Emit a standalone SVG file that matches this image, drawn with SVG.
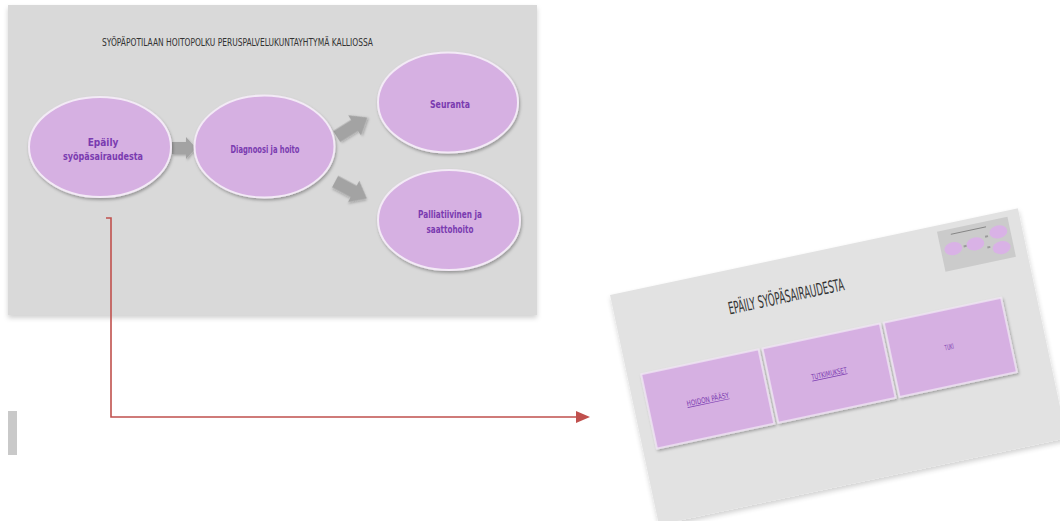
<svg xmlns="http://www.w3.org/2000/svg" width="1060" height="521" viewBox="0 0 1060 521">
<style>
.slide{fill:#d9d9d9}
.slide2{fill:#e2e2e2}
.ell{fill:#d6b0e2;stroke:#f3eaf6;stroke-width:2;filter:url(#sh)}
.etxt{font-family:'DejaVu Sans Condensed','DejaVu Sans',sans-serif;font-weight:bold;font-size:10px;fill:#7a3bb0;text-anchor:middle}
.title{font-family:'DejaVu Sans Condensed','DejaVu Sans',sans-serif;fill:#333333}
.barrow{fill:#a3a3a3;filter:url(#sh2)}
.box{fill:#d6b0e2;stroke:#f1e6f5;stroke-width:1.5;filter:url(#sh)}
.btxt{font-family:'DejaVu Sans Condensed','DejaVu Sans',sans-serif;font-size:7.5px;fill:#7a3bb0;text-anchor:middle}
.conn{fill:none;stroke:#c0504d;stroke-width:1.6}
.mini{fill:#d9b2e6}
</style>
<defs>
<filter id="sh" x="-20%" y="-20%" width="140%" height="150%">
<feDropShadow dx="1" dy="2" stdDeviation="1.5" flood-color="#000" flood-opacity="0.3"/>
</filter>
<filter id="sh2" x="-20%" y="-20%" width="140%" height="150%">
<feDropShadow dx="1" dy="1.5" stdDeviation="1" flood-color="#000" flood-opacity="0.25"/>
</filter>
<filter id="shs" x="-5%" y="-5%" width="110%" height="115%">
<feDropShadow dx="0" dy="3" stdDeviation="2.5" flood-color="#000" flood-opacity="0.18"/>
</filter>
<marker id="ah" markerWidth="14" markerHeight="12" refX="1" refY="6" orient="auto" markerUnits="userSpaceOnUse">
<path d="M0,0 L14,6 L0,12 Z" fill="#c0504d"/>
</marker>
<path id="ba" d="M-12,-6 L2,-6 L2,-11 L12,0 L2,11 L2,6 L-12,6 Z"/>
<path id="bb" d="M-18,-6.5 L3,-6.5 L3,-12 L18,0 L3,12 L3,6.5 L-18,6.5 Z"/>
</defs>

<g id="slide-main">
<rect class="slide" x="8" y="5" width="529" height="310" filter="url(#shs)"/>
<text class="title" x="102" y="46" font-size="10.5" textLength="271" lengthAdjust="spacingAndGlyphs">SYÖPÄPOTILAAN HOITOPOLKU PERUSPALVELUKUNTAYHTYMÄ KALLIOSSA</text>
</g>

<g id="block-arrows">
<use href="#ba" class="barrow" transform="translate(184,148)"/>
<use href="#bb" class="barrow" transform="translate(352,127) rotate(-32)"/>
<use href="#bb" class="barrow" transform="translate(351,190) rotate(28)"/>
</g>

<g id="node-epaily">
<ellipse class="ell" cx="100" cy="147" rx="71" ry="50"/>
<text class="etxt" x="103" y="146">Epäily</text>
<text class="etxt" x="103" y="160" textLength="80" lengthAdjust="spacingAndGlyphs">syöpäsairaudesta</text>
</g>
<g id="node-diagnoosi">
<ellipse class="ell" cx="264.5" cy="146.5" rx="70" ry="51"/>
<text class="etxt" x="265" y="153" textLength="69" lengthAdjust="spacingAndGlyphs">Diagnoosi ja hoito</text>
</g>
<g id="node-seuranta">
<ellipse class="ell" cx="448" cy="102.5" rx="70" ry="50"/>
<text class="etxt" x="450" y="108" textLength="40" lengthAdjust="spacingAndGlyphs">Seuranta</text>
</g>
<g id="node-palliatiivinen">
<ellipse class="ell" cx="449" cy="220" rx="71" ry="50"/>
<text class="etxt" x="450" y="218" textLength="64" lengthAdjust="spacingAndGlyphs">Palliatiivinen  ja</text>
<text class="etxt" x="450" y="233" textLength="47" lengthAdjust="spacingAndGlyphs">saattohoito</text>
</g>

<g id="side-bar">
<rect x="8" y="411" width="9" height="44" fill="#c9c9c9"/>
</g>

<g id="connectors">
<path class="conn" d="M106,218 L111,218 L111,417 L577,417" marker-end="url(#ah)"/>
</g>

<g id="slide-detail" transform="translate(610,295) rotate(-12)">
<rect class="slide2" x="0" y="0" width="417" height="235" filter="url(#shs)"/>
<g id="minimap" transform="translate(333,6)">
<rect x="0" y="0" width="72" height="41" fill="#cbcbcb"/>
<line x1="13" y1="5.5" x2="49" y2="5.5" stroke="#7a7a7a" stroke-width="0.8"/>
<ellipse class="mini" cx="12.5" cy="20" rx="9" ry="6.5"/>
<ellipse class="mini" cx="35" cy="20" rx="9" ry="6.5"/>
<ellipse class="mini" cx="60" cy="13" rx="9" ry="6.5"/>
<ellipse class="mini" cx="60" cy="29" rx="9" ry="6.5"/>
<rect x="23" y="19" width="3" height="2" fill="#9a9a9a"/>
<rect x="46" y="14" width="3" height="2" fill="#9a9a9a"/>
<rect x="46" y="25" width="3" height="2" fill="#9a9a9a"/>
</g>
<text class="title" x="113" y="44" font-size="17" textLength="118" lengthAdjust="spacingAndGlyphs">EPÄILY SYÖPÄSAIRAUDESTA</text>
<g id="box-hoidon">
<rect class="box" x="14" y="84" width="120" height="76"/>
<text class="btxt" x="74" y="125" text-decoration="underline" textLength="43" lengthAdjust="spacingAndGlyphs">HOIDON PÄÄSY</text>
</g>
<g id="box-tutkimukset">
<rect class="box" x="138" y="84" width="120" height="76"/>
<text class="btxt" x="198" y="125" text-decoration="underline" textLength="36" lengthAdjust="spacingAndGlyphs">TUTKIMUKSET</text>
</g>
<g id="box-tuki">
<rect class="box" x="262" y="84" width="120" height="76"/>
<text class="btxt" x="321" y="124" textLength="9" lengthAdjust="spacingAndGlyphs">TUKI</text>
</g>
</g>
</svg>
